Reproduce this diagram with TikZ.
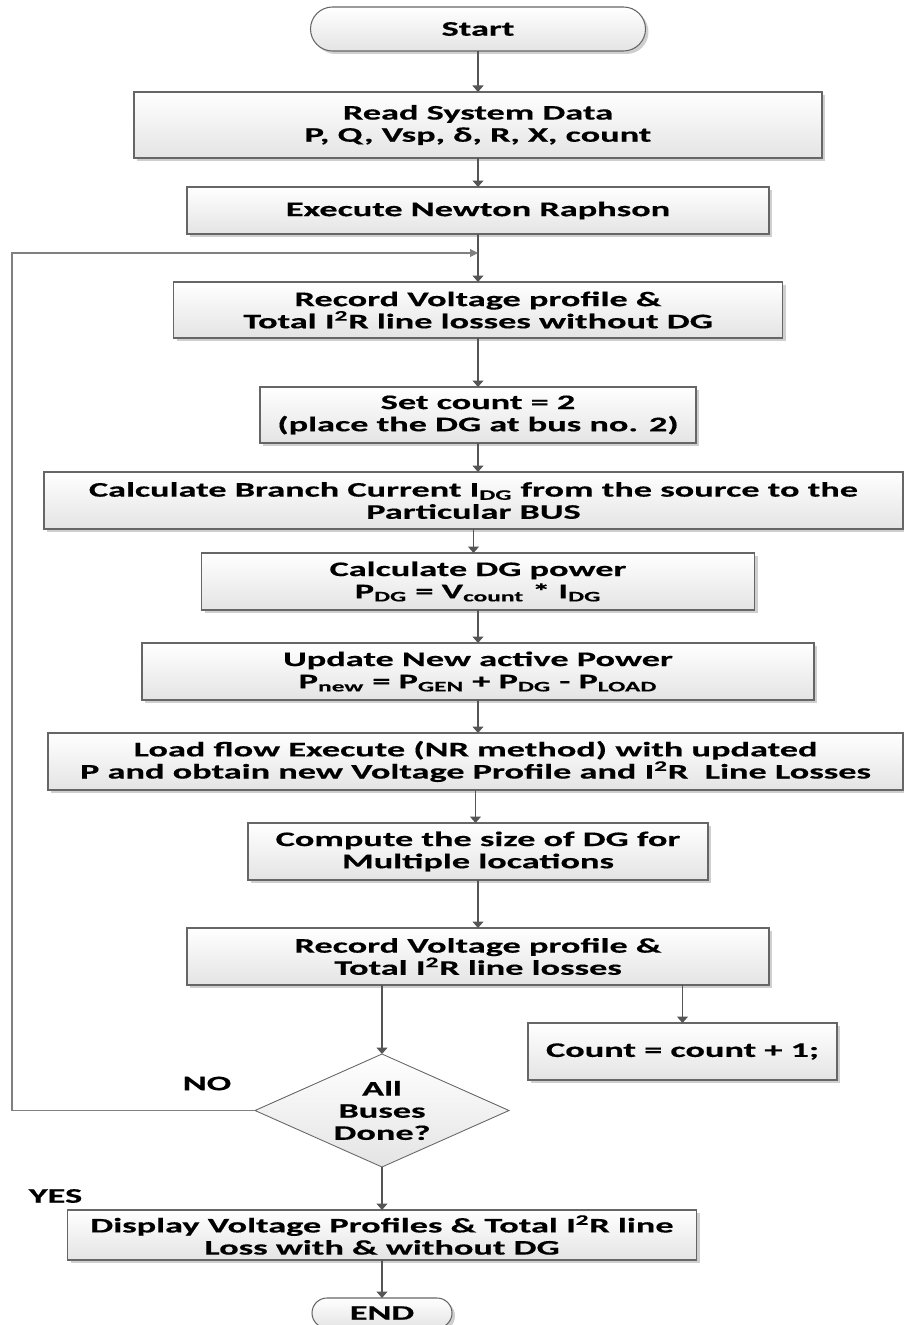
\documentclass[tikz,border=0pt]{standalone}
\usepackage{fontspec}
\setmainfont{Carlito}[FakeStretch=1.75,FakeBold=0.4]
\usetikzlibrary{arrows.meta,positioning,shapes.geometric,shadows}
\definecolor{cEdge}{HTML}{666666}
\definecolor{cShade}{HTML}{E4E4E4}
\definecolor{cShadow}{HTML}{CFCFCF}
\definecolor{cInk}{HTML}{555555}
\tikzset{
  font=\fontsize{11.8}{12.6}\selectfont\bfseries,
  proc/.style={rectangle, draw=cEdge, line width=0.6pt, outer sep=0pt, top color=white, bottom color=cShade, align=center, inner sep=2pt, minimum height=11.4mm, general shadow={fill=cShadow, shadow xshift=0.6mm, shadow yshift=-0.6mm}},
  term/.style={proc, rounded corners=#1, minimum height=2*#1},
  dec/.style={diamond, aspect=2.25, draw=cEdge, line width=0.5pt, outer sep=0pt, top color=white, bottom color=cShade, align=center, inner sep=0pt, minimum width=50.8mm, minimum height=22.6mm},
  lbl/.style={inner sep=0pt},
  flow/.style={-{Triangle[length=1.3mm, width=2.2mm]}, line width=0.7pt, draw=cInk},
  back/.style={-{Triangle[length=1.6mm, width=1.6mm]}, line width=0.6pt, draw=cInk!75},
}

\begin{document}
\begin{tikzpicture}
\useasboundingbox (0,0) rectangle (180.6mm,-265mm);
% main column
\node[term=4.4mm, minimum width=67mm] (start) at (95.6mm,-5.8mm) {Start};
\node[proc, minimum width=137.6mm, minimum height=13.2mm, below=8.2mm of start] (read) {Read System Data\\P, Q, Vsp, δ, R, X, count};
\node[proc, minimum width=116.4mm, minimum height=9.4mm, below=5.8mm of read] (exe) {Execute Newton Raphson};
\node[proc, minimum width=121.8mm, minimum height=11.2mm, below=9.6mm of exe] (rec1) {Record Voltage profile \&\\Total I\textsuperscript{2}R line losses without DG};
\node[proc, minimum width=87.2mm, minimum height=11.2mm, below=9.8mm of rec1] (setc) {Set count = 2\\(place the DG at bus no. 2)};
\node[proc, minimum width=171.8mm, below=5.8mm of setc, xshift=-0.9mm] (ibr) {Calculate Branch Current I\textsubscript{DG} from the source to the\\Particular BUS};
\node[proc, minimum width=110.6mm, below=4.8mm of setc |- ibr.south] (pdg) {Calculate DG power\\P\textsubscript{DG} = V\textsubscript{count} * I\textsubscript{DG}};
\node[proc, minimum width=134.4mm, below=6.6mm of pdg] (pnew) {Update New active Power\\P\textsubscript{new} = P\textsubscript{GEN} + P\textsubscript{DG} - P\textsubscript{LOAD}};
\node[proc, minimum width=171mm, below=6.6mm of pnew, xshift=-0.5mm] (lf) {Load flow Execute (NR method) with updated\\P and obtain new Voltage Profile and I\textsuperscript{2}R~ Line Losses};
\node[proc, minimum width=92mm, below=6.6mm of pnew |- lf.south] (size) {Compute the size of DG for\\Multiple locations};
\node[proc, minimum width=116.4mm, below=9.6mm of size] (rec2) {Record Voltage profile \&\\Total I\textsuperscript{2}R line losses};
% decision and side box
\node[dec, below=13.8mm of rec2, xshift=-19.2mm] (dia) {All\\Buses\\Done?};
\node[proc, minimum width=61.8mm, below=7.6mm of rec2, xshift=40.9mm] (cnt) {Count = count + 1;};
\node[proc, minimum width=125.8mm, minimum height=10mm, below=8.6mm of dia] (disp) {Display Voltage Profiles \& Total I\textsuperscript{2}R line\\Loss with \& without DG};
\node[term=3mm, minimum width=28mm, below=7.6mm of disp] (fin) {END};
\node[lbl] (no) at ([xshift=-9.6mm,yshift=5.4mm]dia.west) {NO};
\node[lbl] (yes) at ([xshift=-2.4mm,yshift=2.8mm]disp.north west) {YES};
% connectors
\foreach \a/\b in {start/read,read/exe,exe/rec1,rec1/setc,setc/ibr,ibr/pdg,pdg/pnew,pnew/lf,lf/size,size/rec2,dia/disp,disp/fin}
  \draw[flow] (\a.south) -- (\a.south |- \b.north);
\draw[flow] (dia.north |- rec2.south) -- (dia.north);
\draw[flow] (cnt.north |- rec2.south) -- (cnt.north);
\coordinate (jn) at ([yshift=-3.8mm]exe.south);
\coordinate (lp) at ([xshift=-6.4mm]ibr.west);
\draw[back] (dia.west) -- (dia.west -| lp) -- (lp |- jn) -- (jn);
\end{tikzpicture}
\end{document}
